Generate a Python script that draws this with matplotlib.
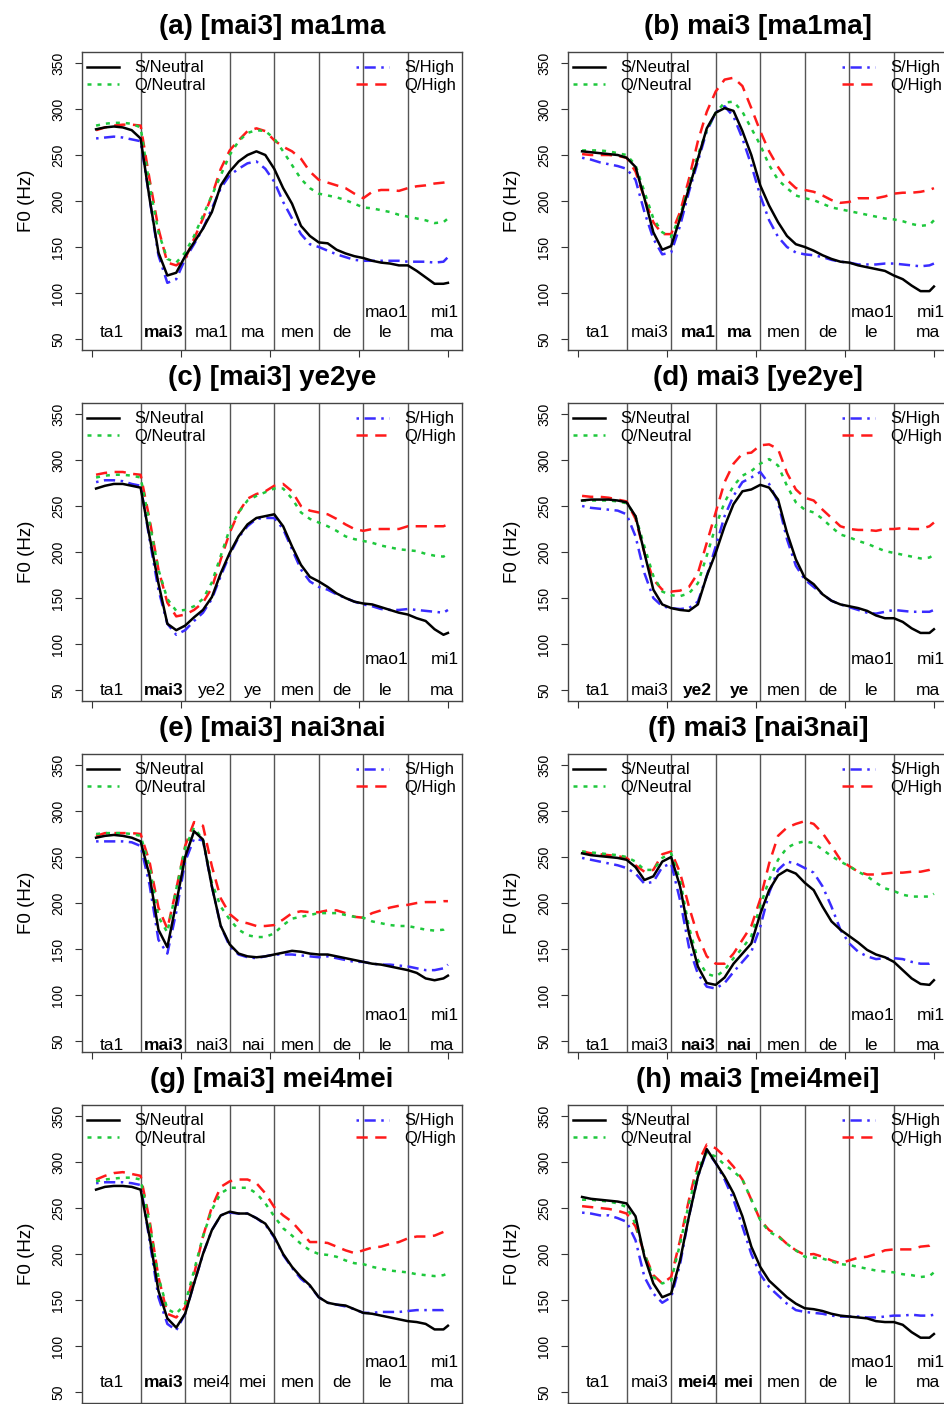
import matplotlib
matplotlib.use('Agg')
import matplotlib.pyplot as plt

plt.rcParams['font.family'] = ['Liberation Sans', 'DejaVu Sans']

# time grid (normalised, 8 syllables x 10 samples)
x = list(range(1, 80, 2)) + [80]

# F0 (Hz): sn = S/Neutral, qn = Q/Neutral, sh = S/High, qh = Q/High
a_sn = [278, 280, 281, 280, 277, 268, 203, 144, 119, 122, 140, 155, 170, 188, 217, 232, 243, 250, 254, 250, 235, 214, 197, 173, 162, 155, 154, 147, 143, 140, 138, 135, 133, 132, 130, 130, 124, 117, 110, 110, 111]
a_qn = [282, 284, 285, 285, 284, 280, 217, 166, 137, 133, 144, 162, 184, 206, 228, 250, 265, 274, 277, 276, 268, 254, 239, 224, 214, 208, 206, 204, 201, 197, 193, 192, 190, 188, 185, 183, 181, 179, 176, 177, 181]
a_qh = [277, 280, 282, 283, 283, 282, 224, 170, 133, 130, 137, 159, 181, 206, 235, 255, 266, 276, 279, 276, 266, 259, 254, 246, 232, 223, 220, 217, 214, 208, 203, 210, 212, 212, 211, 214, 216, 217, 219, 220, 221]
a_sh = [268, 269, 270, 269, 267, 265, 203, 141, 111, 115, 137, 153, 170, 192, 214, 228, 235, 241, 243, 235, 221, 199, 181, 164, 153, 150, 146, 142, 139, 136, 135, 135, 135, 135, 135, 134, 134, 134, 133, 134, 139]

b_sn = [254, 253, 252, 251, 250, 247, 237, 203, 166, 147, 151, 181, 214, 246, 279, 296, 301, 298, 276, 250, 217, 195, 177, 162, 153, 150, 146, 141, 137, 134, 133, 130, 128, 126, 124, 119, 115, 108, 102, 102, 107]
b_qn = [255, 255, 255, 254, 252, 250, 239, 210, 181, 166, 161, 184, 217, 250, 277, 296, 307, 308, 297, 279, 261, 239, 223, 214, 206, 203, 201, 197, 193, 191, 189, 187, 185, 183, 181, 180, 178, 175, 173, 174, 179]
b_qh = [251, 250, 250, 250, 249, 247, 232, 203, 177, 164, 164, 188, 224, 265, 297, 319, 332, 334, 325, 301, 276, 254, 237, 223, 214, 212, 210, 206, 201, 198, 199, 203, 203, 203, 205, 208, 209, 209, 210, 212, 214]
b_sh = [247, 245, 242, 240, 238, 235, 223, 188, 159, 142, 144, 173, 210, 243, 276, 296, 303, 292, 268, 239, 206, 179, 161, 150, 144, 142, 141, 139, 136, 134, 133, 131, 131, 131, 132, 132, 131, 130, 129, 130, 132]

c_sn = [269, 272, 274, 274, 272, 270, 217, 166, 122, 115, 120, 129, 137, 151, 177, 199, 217, 230, 237, 239, 241, 228, 206, 186, 173, 168, 162, 155, 150, 146, 144, 143, 140, 137, 134, 132, 128, 125, 116, 110, 112]
c_qn = [281, 283, 284, 284, 283, 281, 232, 181, 149, 136, 137, 141, 149, 167, 196, 225, 243, 256, 261, 265, 269, 269, 258, 243, 236, 232, 228, 223, 217, 214, 212, 210, 207, 205, 203, 202, 201, 198, 196, 195, 198]
c_qh = [284, 286, 287, 287, 285, 284, 236, 181, 145, 130, 132, 137, 145, 161, 192, 221, 243, 258, 263, 266, 272, 274, 266, 250, 245, 243, 241, 236, 230, 225, 223, 225, 225, 225, 225, 228, 228, 228, 228, 228, 230]
c_sh = [276, 278, 278, 277, 274, 272, 214, 159, 122, 110, 115, 125, 134, 149, 174, 197, 216, 228, 236, 237, 237, 225, 203, 181, 168, 162, 159, 154, 150, 146, 143, 141, 138, 137, 137, 138, 137, 136, 135, 134, 137]

d_sn = [256, 257, 257, 257, 256, 254, 239, 199, 159, 143, 139, 137, 136, 143, 174, 199, 228, 252, 266, 268, 273, 270, 257, 221, 192, 172, 165, 154, 147, 143, 141, 139, 136, 131, 128, 128, 124, 117, 112, 112, 116]
d_qn = [256, 256, 256, 256, 255, 253, 239, 206, 174, 157, 153, 152, 155, 166, 196, 228, 254, 272, 283, 288, 296, 301, 294, 272, 254, 246, 243, 236, 227, 219, 216, 212, 209, 205, 201, 199, 197, 195, 193, 194, 197]
d_qh = [261, 260, 260, 259, 257, 255, 236, 199, 170, 159, 157, 158, 162, 177, 210, 243, 276, 296, 307, 308, 316, 317, 312, 286, 268, 259, 256, 246, 237, 228, 225, 224, 224, 223, 225, 225, 226, 225, 225, 228, 232]
d_sh = [250, 248, 247, 246, 245, 241, 217, 177, 150, 141, 139, 138, 139, 146, 174, 206, 239, 261, 276, 281, 287, 274, 254, 214, 185, 170, 162, 154, 147, 143, 140, 137, 134, 133, 135, 137, 136, 135, 135, 135, 137]

e_sn = [271, 273, 274, 273, 271, 267, 230, 171, 152, 200, 250, 278, 269, 218, 175, 155, 145, 142, 141, 142, 144, 146, 148, 147, 145, 144, 144, 142, 140, 138, 136, 134, 133, 131, 129, 127, 124, 118, 116, 118, 121]
e_qn = [275, 276, 276, 276, 275, 273, 240, 185, 168, 215, 260, 282, 269, 222, 196, 182, 171, 165, 163, 163, 167, 176, 183, 185, 187, 189, 189, 189, 187, 185, 184, 180, 178, 176, 175, 175, 173, 171, 170, 171, 175]
e_qh = [273, 276, 276, 276, 276, 275, 245, 195, 172, 215, 262, 288, 284, 240, 205, 188, 180, 178, 175, 175, 176, 182, 189, 191, 190, 190, 192, 192, 189, 185, 184, 189, 192, 195, 197, 198, 200, 201, 201, 202, 202]
e_sh = [267, 267, 267, 267, 266, 262, 220, 160, 145, 190, 245, 270, 268, 218, 175, 153, 144, 141, 140, 142, 144, 144, 144, 143, 142, 141, 142, 140, 138, 136, 136, 134, 133, 133, 132, 131, 129, 127, 127, 129, 133]

f_sn = [254, 252, 251, 250, 249, 247, 239, 225, 229, 245, 250, 218, 167, 131, 113, 111, 119, 134, 145, 156, 188, 214, 230, 236, 232, 222, 214, 196, 180, 171, 164, 157, 149, 144, 141, 136, 127, 118, 112, 111, 116]
f_qn = [256, 255, 254, 253, 252, 250, 245, 236, 236, 249, 254, 225, 174, 138, 123, 120, 127, 140, 151, 164, 197, 225, 247, 260, 265, 267, 265, 258, 251, 245, 240, 234, 229, 222, 216, 213, 209, 207, 207, 207, 210]
f_qh = [256, 254, 253, 252, 251, 249, 241, 234, 236, 253, 256, 233, 196, 164, 142, 134, 134, 145, 160, 175, 204, 243, 273, 282, 286, 289, 286, 276, 262, 247, 240, 234, 231, 231, 232, 233, 233, 234, 234, 236, 238]
f_sh = [249, 247, 245, 243, 241, 238, 232, 221, 223, 239, 243, 203, 152, 123, 109, 107, 113, 125, 136, 147, 174, 211, 236, 245, 243, 238, 233, 218, 196, 171, 156, 147, 142, 139, 140, 140, 139, 136, 134, 134, 136]

g_sn = [270, 273, 274, 274, 273, 270, 219, 160, 130, 120, 135, 168, 200, 226, 242, 246, 244, 244, 239, 233, 219, 200, 186, 175, 166, 153, 147, 145, 144, 140, 136, 135, 133, 131, 129, 127, 126, 124, 118, 118, 122]
g_qn = [279, 281, 282, 283, 283, 281, 233, 175, 140, 135, 146, 182, 219, 248, 266, 272, 272, 272, 266, 255, 241, 228, 220, 211, 204, 200, 199, 197, 193, 190, 189, 186, 184, 182, 181, 180, 178, 177, 176, 177, 179]
g_qh = [281, 285, 288, 289, 287, 285, 237, 175, 135, 131, 142, 178, 219, 251, 273, 279, 281, 281, 277, 266, 251, 242, 235, 224, 213, 213, 212, 208, 204, 201, 204, 207, 208, 211, 213, 217, 219, 219, 220, 224, 226]
g_sh = [277, 278, 278, 278, 277, 275, 215, 153, 124, 117, 135, 168, 200, 226, 242, 245, 244, 244, 239, 232, 218, 199, 185, 173, 165, 153, 147, 145, 143, 140, 136, 136, 137, 137, 137, 138, 139, 139, 139, 139, 142]

h_sn = [262, 260, 259, 258, 257, 255, 241, 197, 168, 153, 157, 193, 241, 284, 314, 299, 284, 266, 241, 208, 186, 171, 162, 153, 146, 141, 140, 138, 135, 133, 132, 131, 130, 127, 126, 126, 123, 115, 109, 109, 113]
h_qn = [259, 259, 258, 257, 255, 251, 233, 200, 175, 168, 171, 211, 255, 292, 310, 306, 297, 290, 281, 259, 237, 224, 219, 211, 204, 197, 196, 195, 192, 189, 188, 186, 184, 182, 181, 180, 178, 177, 175, 176, 180]
h_qh = [252, 251, 250, 249, 247, 244, 230, 200, 177, 168, 175, 215, 259, 299, 319, 315, 306, 295, 281, 259, 237, 226, 220, 211, 204, 199, 200, 197, 193, 190, 193, 196, 197, 200, 204, 205, 205, 205, 208, 209, 212]
h_sh = [245, 244, 242, 242, 239, 235, 215, 175, 157, 147, 153, 189, 241, 284, 312, 299, 281, 259, 230, 200, 178, 164, 155, 146, 139, 137, 136, 135, 133, 132, 132, 132, 131, 131, 132, 133, 133, 134, 133, 133, 134]

titles = ['(a) [mai3] ma1ma', '(b) mai3 [ma1ma]', '(c) [mai3] ye2ye', '(d) mai3 [ye2ye]',
          '(e) [mai3] nai3nai', '(f) mai3 [nai3nai]', '(g) [mai3] mei4mei', '(h) mai3 [mei4mei]']

words_ma = ['ta1', 'mai3', 'ma1', 'ma', 'men', 'de', 'le', 'ma']
words_ye = ['ta1', 'mai3', 'ye2', 'ye', 'men', 'de', 'le', 'ma']
words_nai = ['ta1', 'mai3', 'nai3', 'nai', 'men', 'de', 'le', 'ma']
words_mei = ['ta1', 'mai3', 'mei4', 'mei', 'men', 'de', 'le', 'ma']
upper_words = ['mao1', 'mi1']

seg_edges = [11, 21, 31, 41, 51, 61, 71]
word_x = [4.5, 16.2, 27, 36.3, 46.3, 56.2, 66, 78.7]
upper_x = [66.2, 79.2]

series_names = ['S/Neutral', 'Q/Neutral', 'S/High', 'Q/High']
colors = ['black', '#1ec83c', '#3a2cff', '#ff1a1a']
styles = ['-', (0, (1.6, 2.4)), (0, (1, 2.2, 4.5, 2.2)), (0, (4.5, 3))]

panels = [
    (titles[0], [a_sn, a_qn, a_sh, a_qh], words_ma, [1], (57, 79)),
    (titles[1], [b_sn, b_qn, b_sh, b_qh], words_ma, [2, 3], (57, 79)),
    (titles[2], [c_sn, c_qn, c_sh, c_qh], words_ye, [1], (49, 83)),
    (titles[3], [d_sn, d_qn, d_sh, d_qh], words_ye, [2, 3], (49, 83)),
    (titles[4], [e_sn, e_qn, e_sh, e_qh], words_nai, [1], (45, 78)),
    (titles[5], [f_sn, f_qn, f_sh, f_qh], words_nai, [2, 3], (45, 78)),
    (titles[6], [g_sn, g_qn, g_sh, g_qh], words_mei, [1], (60, 82)),
    (titles[7], [h_sn, h_qn, h_sh, h_qh], words_mei, [2, 3], (60, 82)),
]

W, H = 944, 1404
fig = plt.figure(figsize=(W / 100, H / 100), dpi=100)
lefts = [82, 568]
tops = [52, 403, 754, 1105]
aw, ah = 380, 298

for i, (title, ys, words, bold, (ylo, yhi)) in enumerate(panels):
    left = lefts[i % 2]
    top = tops[i // 2]
    ax = fig.add_axes([left / W, 1 - (top + ah) / H, aw / W, ah / H])

    for e in seg_edges:
        ax.axvline(e, color='#555555', lw=1, zorder=1)

    order = [2, 3, 1, 0]
    lines = {}
    for k in order:
        ln, = ax.plot(x, ys[k], color=colors[k], linestyle=styles[k], lw=1.8,
                      label=series_names[k], zorder=3 + order.index(k))
        lines[k] = ln

    for j, w in enumerate(words):
        ax.text(word_x[j], ylo, w, ha='center', va='center', fontsize=12.5,
                fontweight='bold' if j in bold else 'normal', clip_on=True)
    for j, w in enumerate(upper_words):
        ax.text(upper_x[j], yhi, w, ha='center', va='center', fontsize=12.5, clip_on=True)

    leg1 = ax.legend([lines[0], lines[1]], series_names[:2], loc='upper left',
                     bbox_to_anchor=(0.012, 0.972), frameon=False, fontsize=12,
                     handlelength=1.95, handletextpad=0.9, labelspacing=0.15,
                     borderpad=0, borderaxespad=0)
    ax.add_artist(leg1)
    ax.legend([lines[2], lines[3]], series_names[2:], loc='upper left',
              bbox_to_anchor=(0.722, 0.972), frameon=False, fontsize=12,
              handlelength=1.95, handletextpad=0.9, labelspacing=0.15,
              borderpad=0, borderaxespad=0)

    ax.set_xlim(-2.16, 83.16)
    ax.set_ylim(38, 362)
    ax.set_xticks([0, 20, 40, 60, 80])
    ax.set_xticklabels([])
    ax.set_yticks([50, 100, 150, 200, 250, 300, 350])
    ax.tick_params(axis='both', direction='out', length=5, width=0.8, color='#333333')
    ax.tick_params(axis='y', labelrotation=90, labelsize=10, pad=7)
    for lbl in ax.get_yticklabels():
        lbl.set_va('center')
    for s in ax.spines.values():
        s.set_color('#444444')
        s.set_linewidth(1)
    ax.set_ylabel('F0 (Hz)', fontsize=13.5, labelpad=12)
    ax.set_title(title, fontsize=20, fontweight='bold', pad=13)

fig.savefig('out.png', dpi=100)
